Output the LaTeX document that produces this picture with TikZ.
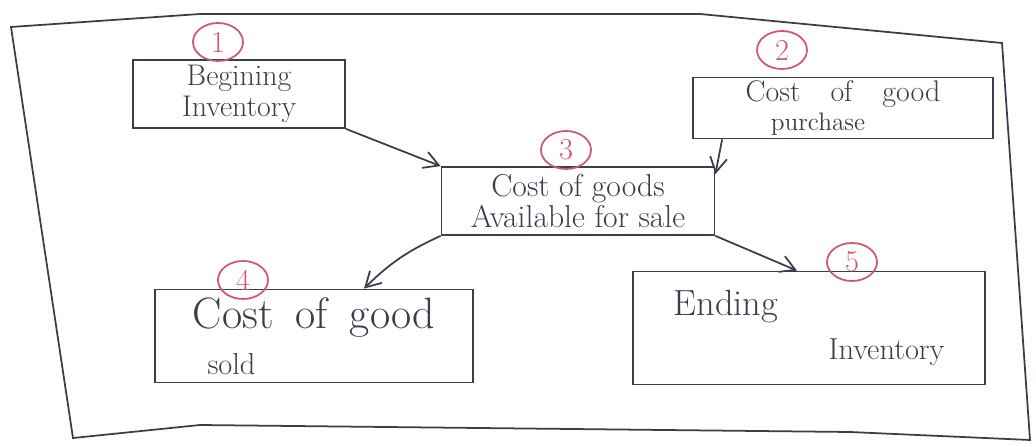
\documentclass[tikz,border=0pt]{standalone}
\usepackage{tikz}
\usetikzlibrary{arrows.meta,shapes.geometric}

\definecolor{pen}{HTML}{3A3D4E}
\definecolor{redpen}{HTML}{D0586A}

\begin{document}
\begin{tikzpicture}[x=0.2mm,y=-0.2mm,line width=1pt,draw=pen,
    >={Straight Barb[length=3mm,width=3.4mm]},
    box/.style={draw=pen,rectangle,align=center,text=pen,inner sep=0pt},
    num/.style={draw=redpen,ellipse,text=redpen,minimum width=10mm,minimum height=7.6mm,inner sep=0pt,font=\LARGE}]
    \useasboundingbox (0,0) rectangle (1036,447);
    % outer frame
    \draw[pen] (11,27) -- (200,14) -- (700,14) -- (1002,43) -- (1030,440) -- (850,432) -- (200,425) -- (73,438) -- cycle;

    \node[box, minimum width=42.4mm, minimum height=13.6mm, font=\fontsize{17}{18}\selectfont] (inv) at (239,94) {Begining\\Inventory};
    \node[box, minimum width=60mm, minimum height=12.2mm, font=\fontsize{17}{16}\selectfont] (purch) at (843,108) {Cost\quad of\quad good\\{\Large purchase}\hspace*{1cm}};
    \node[box, minimum width=54.6mm, minimum height=13.6mm, font=\fontsize{18}{18}\selectfont] (avail) at (578,201) {Cost of goods\\Available for sale};
    \node[box, minimum width=63.6mm, minimum height=18.6mm, font=\fontsize{25}{26}\selectfont] (sold) at (314,336) {Cost\enspace of\enspace good\\{\LARGE sold}\hspace*{3.3cm}};
    \node[box, minimum width=70.4mm, minimum height=22.6mm, font=\huge, align=left] (ending) at (809,328) {Ending\\\hspace*{3.1cm}{\LARGE Inventory}};

    \node[num] (n1) at (218,42) {1};
    \node[num] (n2) at (782,50) {2};
    \node[num] (n3) at (566,150) {3};
    \node[num] (n4) at (243,280) {4};
    \node[num] (n5) at (852,262) {5};

    \path[->]
        (inv.south east) edge (avail.north west)
        ([xshift=6mm]purch.south west) edge ([yshift=-1.6mm]avail.north east)
        (avail.south west) edge [bend right=10] ([xshift=10mm]sold.north)
        (avail.south east) edge ([xshift=-2.4mm]ending.north);
\end{tikzpicture}
\end{document}
